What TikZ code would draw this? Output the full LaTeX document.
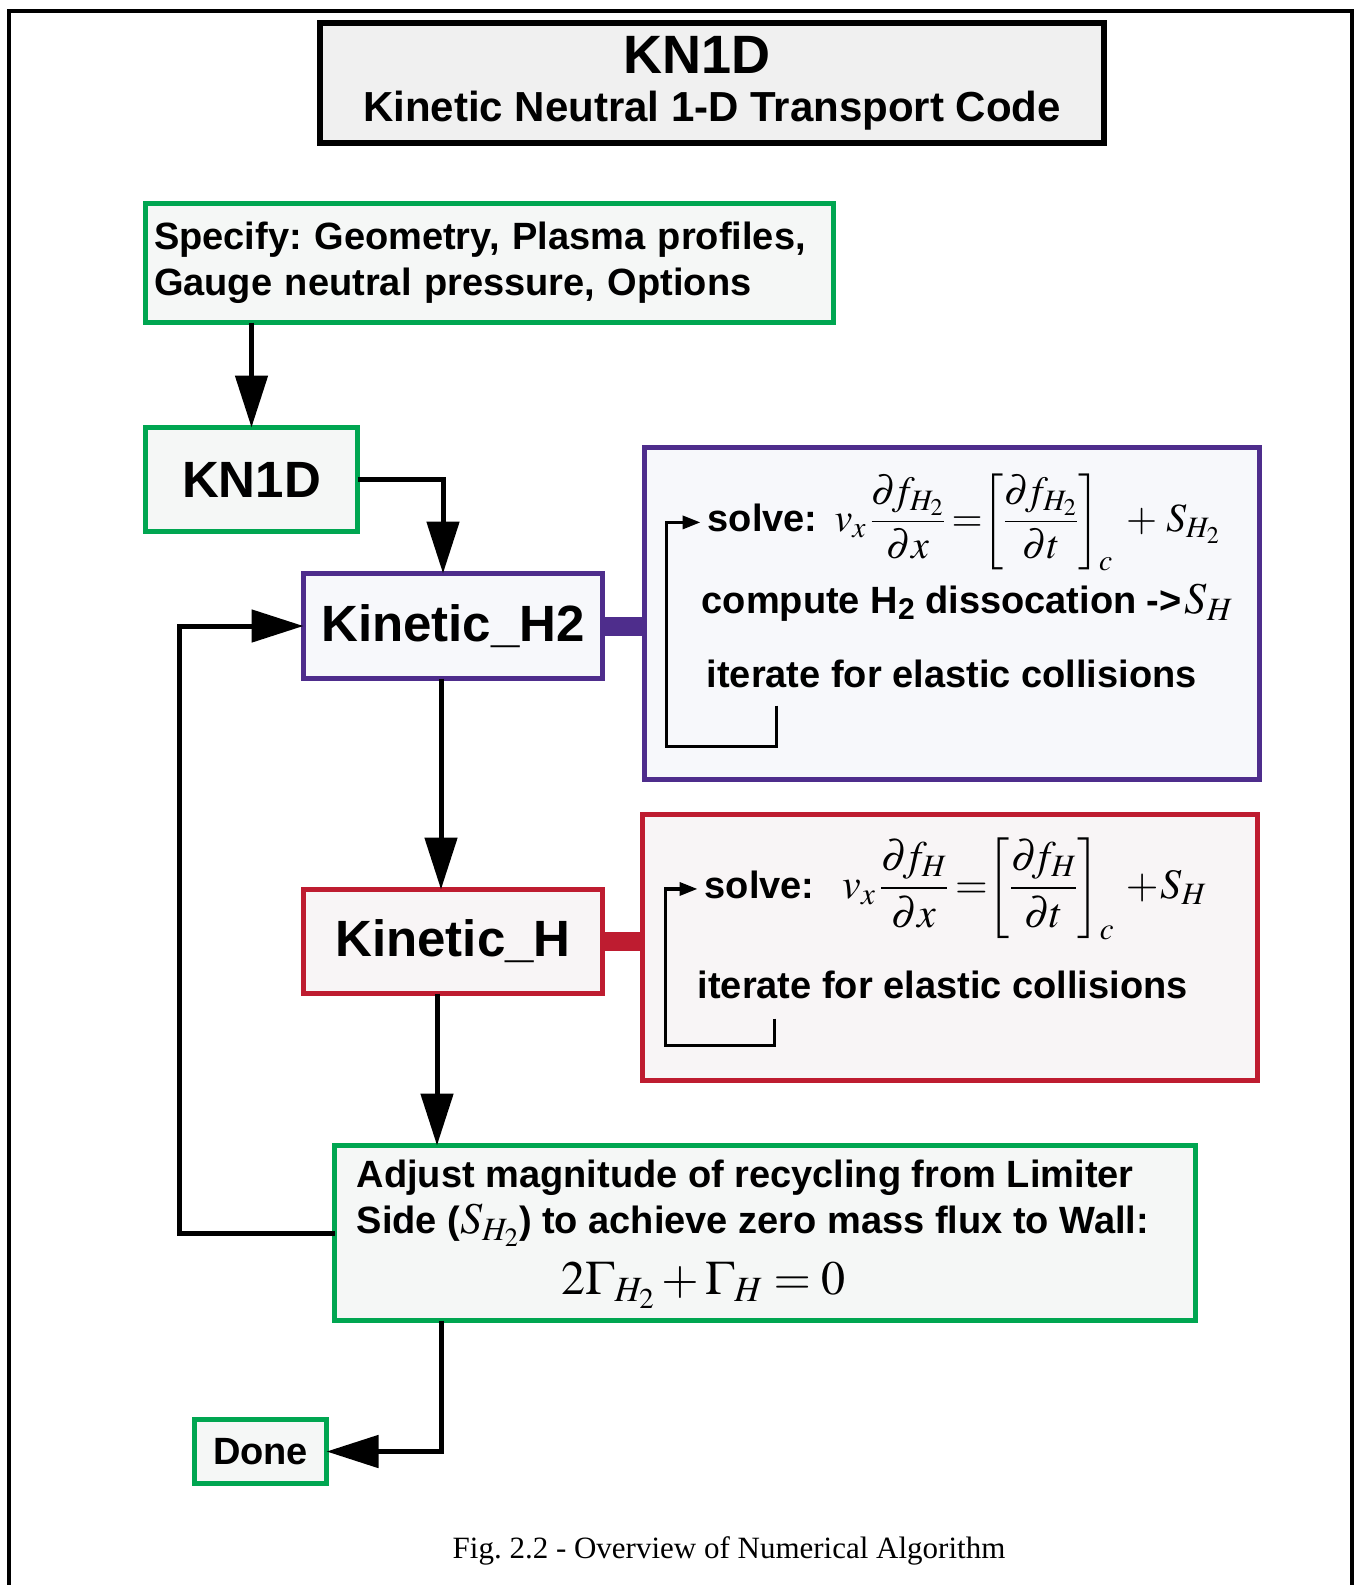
\documentclass[tikz,border=0pt]{standalone}
\usepackage{mathptmx}
\usepackage[no-math]{fontspec}
\setmainfont{Liberation Sans}
\newfontfamily\capfont{Liberation Serif}
\usetikzlibrary{calc,arrows.meta}

\definecolor{kngreen}{RGB}{0,166,81}
\definecolor{knpurple}{RGB}{78,45,140}
\definecolor{knred}{RGB}{190,28,48}
\definecolor{titlefill}{RGB}{240,240,240}
\definecolor{greenfill}{RGB}{245,247,246}
\definecolor{purplefill}{RGB}{247,248,251}
\definecolor{redfill}{RGB}{248,245,246}

\frenchspacing

\begin{document}
\begin{tikzpicture}[x=1pt,y=-1pt]
  \tikzstyle{box}=[draw,outer sep=0pt,line width=5pt,font=\bfseries\fontsize{38}{46}\selectfont]
  \tikzstyle{greenbox}=[box,draw=kngreen,fill=greenfill]
  \tikzstyle{purplebox}=[box,draw=knpurple,fill=purplefill]
  \tikzstyle{redbox}=[box,draw=knred,fill=redfill]
  \tikzstyle{txt}=[inner sep=0pt,anchor=base west,font=\bfseries\fontsize{38}{46}\selectfont]
  \tikzstyle{flow}=[line width=5pt,-{Triangle[length=52pt,width=32pt]}]
  \tikzstyle{iter}=[line width=3.5pt,-{Triangle[length=18pt,width=13pt]}]
  \tikzstyle{bar}=[line width=19pt]

  \useasboundingbox (0,0) rectangle (1356,1585);
  \draw[line width=4pt] (9,1585) -- (9,11) -- (1352,11) -- (1352,1585);

  % title
  \node[box,fill=titlefill,line width=6pt,minimum width=784,minimum height=120,align=center,
        font=\bfseries\fontsize{42}{48}\selectfont] (title) at (712,83)
        {{\fontsize{54}{48}\selectfont KN1D\hspace*{30pt}}\\Kinetic Neutral 1-D Transport Code};

  % flow boxes
  \node[greenbox,minimum height=119,text width=670,inner xsep=9pt,align=left] (spec) at (489,263)
        {Specify: Geometry, Plasma profiles,\\Gauge neutral pressure, Options};
  \node[greenbox,minimum width=212,minimum height=104,font=\bfseries\fontsize{51}{51}\selectfont] (kn) at (251.5,479.5) {KN1D};
  \node[purplebox,minimum width=299,minimum height=105,font=\bfseries\fontsize{51}{51}\selectfont] (kh2) at (453,626) {Kinetic\_H2};
  \node[redbox,minimum width=299,minimum height=104,font=\bfseries\fontsize{51}{51}\selectfont] (kh) at (453,941.5) {Kinetic\_H};
  \node[greenbox,minimum width=861,minimum height=175] (adj) at (765,1233) {};
  \node[greenbox,minimum width=132,minimum height=64] (done) at (260.5,1451.5) {Done};

  % detail boxes
  \node[purplebox,minimum width=615,minimum height=332] (pbox) at (952,613.5) {};
  \node[redbox,minimum width=615,minimum height=266] (rbox) at (950,947.5) {};

  \node[txt] (psolve) at ($(pbox.north west)+(63,84)$)
        {solve:\hspace{17pt}{\fontsize{40}{50}\selectfont$\displaystyle v_x\,\frac{\partial\! f_{H_2}}{\partial x}\mkern3mu{=}\mkern-2mu\left[\frac{\partial\! f_{H_2}}{\partial t}\right]_c\mkern4mu{+}\mkern4mu S_{H_2}$}};
  \node[txt] (pcomp) at ($(pbox.north west)+(57,166)$)
        {compute H\raisebox{-0.3ex}{\fontsize{30}{30}\selectfont 2} dissocation ->\hspace{3pt}{\fontsize{44}{50}\selectfont$S_H$}};
  \node[txt] (piter) at ($(pbox.north west)+(62,240)$) {iterate for elastic collisions};

  \node[txt] (rsolve) at ($(rbox.north west)+(62,84)$)
        {solve:\hspace{28pt}{\fontsize{42}{50}\selectfont$\displaystyle v_x\,\frac{\partial\! f_{H}}{\partial x}\mkern3mu{=}\mkern-2mu\left[\frac{\partial\! f_{H}}{\partial t}\right]_c\mkern3mu{+}\mkern1mu S_{H}$}};
  \node[txt] (riter) at ($(rbox.north west)+(55,184)$) {iterate for elastic collisions};

  \node[txt] (adj1) at ($(adj.north west)+(22,42)$) {Adjust magnitude of recycling from Limiter};
  \node[txt] (adj2) at ($(adj.north west)+(22,88)$) {Side ({\fontsize{44}{50}\selectfont$S_{H_2}$}) to achieve zero mass flux to Wall:};
  \node[txt] (adj3) at ($(adj.north west)+(227,149)$) {\fontsize{48}{50}\selectfont$2\Gamma_{H_2}+\Gamma_H=0$};

  \node[font=\capfont\fontsize{31}{31}\selectfont] (caption) at (729,1551) {Fig. 2.2 - Overview of Numerical Algorithm};

  % connectors
  \draw[bar,knpurple] (kh2.east) -- (pbox.west |- kh2.east);
  \draw[bar,knred] (kh.east) -- (rbox.west |- kh.east);

  \draw[flow] (kn.north |- spec.south) -- (kn.north);
  \draw[flow] (kn.east) -| ($(kh2.north)+(-10,0)$);
  \draw[flow] ($(kh2.south)+(-12,0)$) -- ($(kh.north)+(-12,0)$);
  \coordinate (khout) at ($(kh.south)+(-16,0)$);
  \draw[flow] (khout) -- (khout |- adj.north);
  \coordinate (ret) at (179,0);
  \draw[flow] (adj.west) -- (adj.west -| ret) |- (kh2.west);
  \draw[flow] ($(adj.south west)+(107,0)$) |- (done.east);

  % iteration loops
  \draw[iter,shorten >=7pt] ($(pbox.north west)+(132,258)$) |- ($(pbox.north west)+(22,299)$) |- (psolve.west);
  \draw[iter,shorten >=7pt] ($(rbox.north west)+(132,204)$) |- ($(rbox.north west)+(23,231)$) |- (rsolve.west);
\end{tikzpicture}
\end{document}
